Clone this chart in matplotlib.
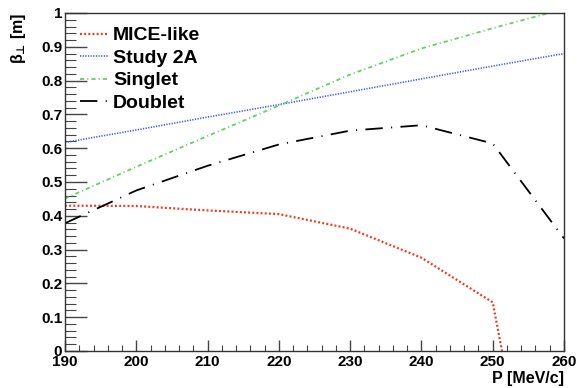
import matplotlib
matplotlib.use("Agg")
import matplotlib.pyplot as plt
from matplotlib.ticker import MultipleLocator, FormatStrFormatter

plt.rcParams['font.family'] = ['Liberation Sans', 'DejaVu Sans']
plt.rcParams['font.weight'] = 'bold'
plt.rcParams['lines.scale_dashes'] = False
plt.rcParams['mathtext.fontset'] = 'custom'
plt.rcParams['mathtext.rm'] = 'DejaVu Sans'
plt.rcParams['mathtext.it'] = 'DejaVu Sans'
plt.rcParams['mathtext.bf'] = 'DejaVu Sans:bold'

# ---- data ----
p_mice = [190, 200, 207.5, 210, 220, 230, 240, 250, 251.3]
beta_mice = [0.430, 0.429, 0.419, 0.416, 0.405, 0.362, 0.276, 0.144, 0.0]

p_study = [190, 200, 210, 220, 230, 240, 250, 260]
beta_study = [0.617, 0.654, 0.692, 0.729, 0.767, 0.805, 0.843, 0.880]

p_singlet = [190, 200, 210, 220, 230, 240, 250, 260]
beta_singlet = [0.451, 0.545, 0.636, 0.726, 0.818, 0.895, 0.955, 1.012]

p_doublet = [190, 200, 210, 220, 230, 240, 250, 260]
beta_doublet = [0.378, 0.475, 0.548, 0.611, 0.652, 0.668, 0.614, 0.333]

labels = ["MICE-like", "Study 2A", "Singlet", "Doublet"]
xlabel = "P [MeV/c]"
ylabel = "\u03b2$_{\u22a5}$ [m]"

fig = plt.figure(figsize=(5.77, 3.88), dpi=100)
ax = fig.add_axes([65/577, 37/388, 499/577, 338/388])

l1, = ax.plot(p_mice, beta_mice, color='#f23a1a', lw=1.6, dashes=(1.4, 1.6), label=labels[0])
l2, = ax.plot(p_study, beta_study, color='#3f5cf5', lw=1.2, dashes=(0.9, 1.0), label=labels[1])
l3, = ax.plot(p_singlet, beta_singlet, color='#5ed45a', lw=1.3, dashes=(3.0, 2.2, 0.8, 2.2), label=labels[2])
l4, = ax.plot(p_doublet, beta_doublet, color='black', lw=1.3, dashes=(12.5, 6.0, 0.8, 6.0), label=labels[3])

ax.set_xlim(190, 260)
ax.set_ylim(0, 1)

ax.xaxis.set_major_locator(MultipleLocator(10))
ax.xaxis.set_minor_locator(MultipleLocator(2))
ax.yaxis.set_major_locator(MultipleLocator(0.1))
ax.yaxis.set_minor_locator(MultipleLocator(0.02))
ax.yaxis.set_major_formatter(FormatStrFormatter('%g'))

ax.tick_params(axis='both', which='both', direction='in', labelsize=11, color='#444444')
ax.tick_params(axis='x', which='major', length=8, width=1.0, pad=3)
ax.tick_params(axis='x', which='minor', length=4, width=0.8)
ax.tick_params(axis='y', which='major', length=16, width=1.0, pad=2)
ax.tick_params(axis='y', which='minor', length=8, width=0.8)
for lab in ax.get_xticklabels() + ax.get_yticklabels():
    lab.set_fontweight('bold')

for s in ax.spines.values():
    s.set_color('#333333')
    s.set_linewidth(1.0)

ax.set_xlabel(xlabel, fontsize=11.5, fontweight='bold', loc='right', labelpad=1)
ax.set_ylabel(ylabel, fontsize=11.5, fontweight='bold', loc='top', labelpad=9)

leg = ax.legend(handles=[l1, l2, l3, l4], loc='upper left', frameon=False,
                fontsize=14, handlelength=1.45, handletextpad=0.27,
                labelspacing=0.25, borderaxespad=0.0,
                bbox_to_anchor=(7/499, 1 - 6/338))
for t in leg.get_texts():
    t.set_fontweight('bold')

fig.savefig("out.png", dpi=100)
